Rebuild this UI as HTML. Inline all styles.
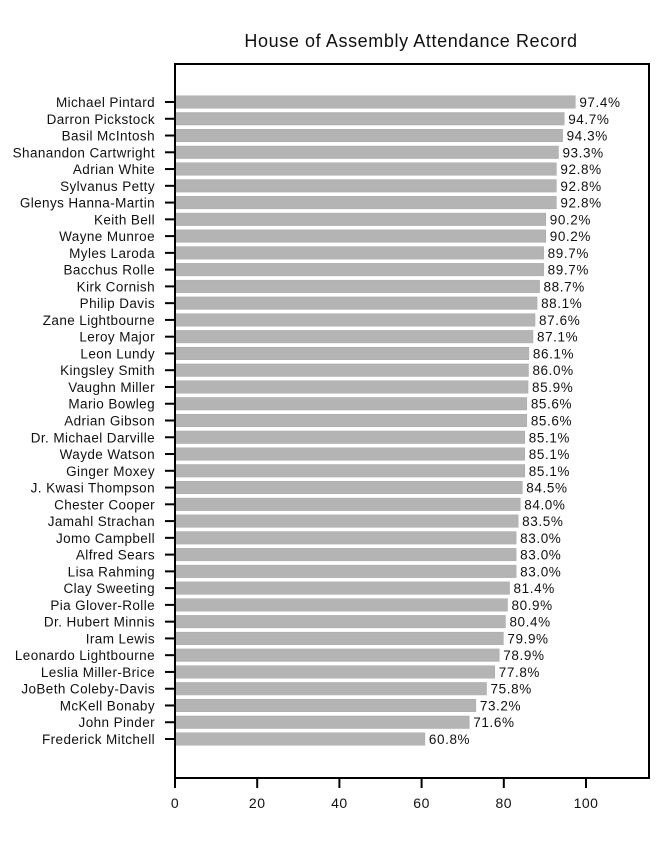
<!DOCTYPE html>
<html><head><meta charset="utf-8"><style>
body{margin:0;background:#fff;}
svg{font-family:"Liberation Sans",sans-serif;}
</style></head><body>
<svg id="chart" width="670" height="837">
<text x="411" y="47" text-anchor="middle" font-size="18" letter-spacing="0.6" fill="#111">House of Assembly Attendance Record</text>
<g id="bars"></g>
<rect x="175" y="64" width="474" height="714" fill="none" stroke="#000" stroke-width="2"/>
<g id="axis"></g>
</svg>
<script>
const names = ["Michael Pintard","Darron Pickstock","Basil McIntosh","Shanandon Cartwright","Adrian White","Sylvanus Petty","Glenys Hanna-Martin","Keith Bell","Wayne Munroe","Myles Laroda","Bacchus Rolle","Kirk Cornish","Philip Davis","Zane Lightbourne","Leroy Major","Leon Lundy","Kingsley Smith","Vaughn Miller","Mario Bowleg","Adrian Gibson","Dr. Michael Darville","Wayde Watson","Ginger Moxey","J. Kwasi Thompson","Chester Cooper","Jamahl Strachan","Jomo Campbell","Alfred Sears","Lisa Rahming","Clay Sweeting","Pia Glover-Rolle","Dr. Hubert Minnis","Iram Lewis","Leonardo Lightbourne","Leslia Miller-Brice","JoBeth Coleby-Davis","McKell Bonaby","John Pinder","Frederick Mitchell"];
const values = [97.4,94.7,94.3,93.3,92.8,92.8,92.8,90.2,90.2,89.7,89.7,88.7,88.1,87.6,87.1,86.1,86.0,85.9,85.6,85.6,85.1,85.1,85.1,84.5,84.0,83.5,83.0,83.0,83.0,81.4,80.9,80.4,79.9,78.9,77.8,75.8,73.2,71.6,60.8];
const ticks = [0,20,40,60,80,100];
const NS="http://www.w3.org/2000/svg";
const x0=175, pxPer=4.11;
const xs=v=>x0+v*pxPer;
const firstC=102, lastC=739;
const step=(lastC-firstC)/(names.length-1);
const ys=i=>firstC+i*step;
const bh=12.5;
const gb=document.getElementById('bars'), ga=document.getElementById('axis');
function mk(tag,attrs,parent){const e=document.createElementNS(NS,tag);for(const k in attrs)e.setAttribute(k,attrs[k]);parent.appendChild(e);return e;}
names.forEach((n,i)=>{
  const y=ys(i);
  const r=mk('rect',{x:x0,y:y-bh/2,width:xs(values[i])-x0,height:bh,fill:'#b4b4b4',stroke:'#a8a8a8','stroke-width':0.5},gb);
  
  
  const t=mk('text',{x:xs(values[i])+4,y:y+5,'font-size':13.5,'letter-spacing':0.6,fill:'#111'},gb);
  t.textContent=values[i].toFixed(1)+'%';
  
  
  const tk=mk('line',{x1:165,x2:175,y1:y,y2:y,stroke:'#000','stroke-width':2},ga);
  
  
  const l=mk('text',{x:155,y:y+5,'font-size':13.5,'letter-spacing':0.4,'text-anchor':'end',fill:'#111'},ga);
  l.textContent=n;
  
  
});
ticks.forEach(v=>{
  const x=xs(v);
  const tk=mk('line',{x1:x,x2:x,y1:778,y2:788,stroke:'#000','stroke-width':2},ga);
  
  
  const l=mk('text',{x:x,y:808,'font-size':14,'letter-spacing':0.5,'text-anchor':'middle',fill:'#111'},ga);
  l.textContent=v;
  
  
});
</script>
</body></html>
